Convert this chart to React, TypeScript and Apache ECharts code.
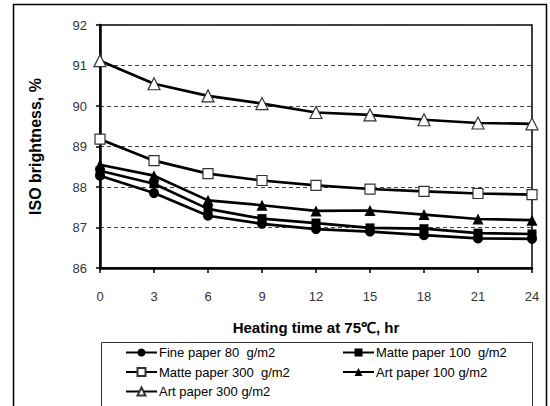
import React, { useEffect, useRef } from "react";
import * as echarts from "echarts";

const hours = [0, 3, 6, 9, 12, 15, 18, 21, 24];
const finePaper80 = [88.28, 87.85, 87.29, 87.09, 86.96, 86.9, 86.81, 86.73, 86.72];
const mattePaper100 = [88.4, 88.08, 87.46, 87.22, 87.11, 86.99, 86.97, 86.86, 86.84];
const mattePaper300 = [89.18, 88.65, 88.33, 88.16, 88.04, 87.95, 87.89, 87.84, 87.81];
const artPaper100 = [88.55, 88.28, 87.67, 87.55, 87.41, 87.42, 87.32, 87.21, 87.18];
const artPaper300 = [91.12, 90.55, 90.25, 90.06, 89.84, 89.78, 89.66, 89.58, 89.56];

const names = [
  "Fine paper 80  g/m2",
  "Matte paper 100  g/m2",
  "Matte paper 300  g/m2",
  "Art paper 100 g/m2",
  "Art paper 300 g/m2",
];
const yTitle = "ISO brightness, %";
const xTitle = "Heating time at 75℃, hr";

const FONT = "'Liberation Sans', Arial, sans-serif";

function pair(vals: number[]) {
  return hours.map((h, i) => [h, vals[i]]);
}

export default function App() {
  const ref = useRef<HTMLDivElement>(null);
  useEffect(() => {
    if (!ref.current) return;
    const chart = echarts.init(ref.current, null, { renderer: "svg" });
    const mk = (
      name: string,
      vals: number[],
      symbol: string,
      size: number,
      open: boolean
    ) => ({
      name,
      type: "line",
      data: pair(vals),
      symbol,
      symbolSize: size,
      lineStyle: { color: "#000", width: 2.7 },
      itemStyle: open
        ? { color: "#fff", borderColor: "#333", borderWidth: 1.2 }
        : { color: "#000", borderColor: "#000", borderWidth: 0 },
      emphasis: { disabled: true },
    });
    const legendCommon = {
      orient: "vertical",
      itemWidth: 31,
      itemHeight: 10,
      itemGap: 6.5,
      padding: 0,
      textStyle: { fontFamily: FONT, fontSize: 13, color: "#000", padding: [0, 0, 0, -3] },
      selectedMode: false,
    };
    chart.setOption({
      animation: false,
      backgroundColor: "#fff",
      textStyle: { fontFamily: FONT },
      grid: {
        left: 100,
        right: 18,
        top: 25,
        bottom: 138,
        show: true,
        borderColor: "#000",
        borderWidth: 1.5,
        backgroundColor: "transparent",
      },
      xAxis: {
        type: "value",
        min: 0,
        max: 24,
        interval: 3,
        name: xTitle,
        nameLocation: "middle",
        nameGap: 52,
        nameTextStyle: { fontFamily: FONT, fontSize: 15, fontWeight: "bold", color: "#000" },
        axisLine: { show: true, onZero: false, lineStyle: { color: "#000", width: 2.5 } },
        axisTick: { show: true, inside: false, length: 5, lineStyle: { color: "#000", width: 1.5 } },
        axisLabel: { margin: 22, fontFamily: FONT, fontSize: 13, color: "#333" },
        splitLine: { show: false },
      },
      yAxis: {
        type: "value",
        min: 86,
        max: 92,
        interval: 1,
        name: yTitle,
        nameLocation: "middle",
        nameGap: 57,
        nameTextStyle: { fontFamily: FONT, fontSize: 16, fontWeight: "bold", color: "#000" },
        axisLine: { show: true, lineStyle: { color: "#000", width: 2.5 } },
        axisTick: { show: true, inside: false, length: 4, lineStyle: { color: "#000", width: 1.5 } },
        axisLabel: { margin: 13, fontFamily: FONT, fontSize: 13, color: "#333" },
        splitLine: { show: true, lineStyle: { color: "#444", width: 1, type: [4, 3] } },
      },
      legend: [
        { ...legendCommon, data: [names[0], names[2], names[4]], left: 125, top: 346 },
        { ...legendCommon, data: [names[1], names[3]], left: 342, top: 346 },
      ],
      graphic: [
        {
          type: "rect",
          shape: { x: 13.5, y: 4.5, width: 533, height: 420 },
          style: { fill: "none", stroke: "#000", lineWidth: 1.5 },
          silent: true,
          z: 100,
        },
        {
          type: "rect",
          shape: { x: 101.5, y: 342.5, width: 431, height: 80 },
          style: { fill: "none", stroke: "#333", lineWidth: 1 },
          silent: true,
          z: 100,
        },
      ],
      series: [
        mk(names[0], finePaper80, "circle", 10, false),
        mk(names[1], mattePaper100, "rect", 9, false),
        mk(names[2], mattePaper300, "rect", 10, true),
        mk(names[3], artPaper100, "triangle", 11, false),
        mk(names[4], artPaper300, "triangle", 12, true),
      ],
    });
    return () => chart.dispose();
  }, []);
  return (
    <div
      ref={ref}
      style={{ position: "fixed", left: 0, top: 0, width: 550, height: 406 }}
    />
  );
}
